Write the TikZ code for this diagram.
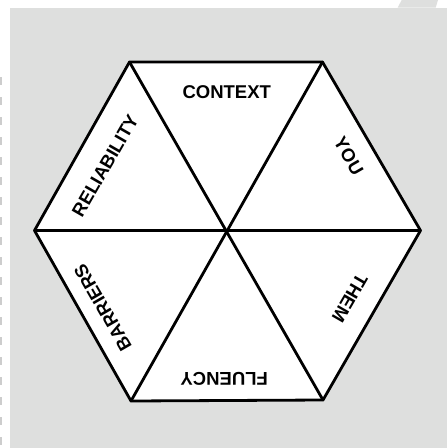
\documentclass[tikz,border=0pt]{standalone}
\usepackage{fontspec}
\setmainfont{Liberation Sans}
\definecolor{bggray}{HTML}{DEDFDE}
\definecolor{dashgray}{HTML}{CDCDCD}
\begin{document}
\begin{tikzpicture}[x=1pt,y=-1pt,
  edge/.style={line width=2.8pt, line join=round, line cap=round},
  lbl/.style={font=\bfseries\fontsize{18.5}{20}\selectfont, inner sep=0pt, text height=13.3pt, text depth=0pt}]
\useasboundingbox (0,0) rectangle (447,448);
\fill[white] (0,0) rectangle (447,448);
\fill[bggray] (10,7.5) rectangle (447,448);
\fill[bggray] (397.7,7.6) -- (401.7,0) -- (438,0) -- (435.7,7.6) -- cycle;
\draw[dashgray, line width=2pt, dash pattern=on 8pt off 12pt] (1,77) -- (1,448);
% hexagon
\coordinate (c) at (227.5,230.5);
\coordinate (v1) at (129.5,62);
\coordinate (v2) at (322.5,62);
\coordinate (v3) at (420.5,230.5);
\coordinate (v4) at (323,400);
\coordinate (v5) at (131,401);
\coordinate (v6) at (34.5,230.5);
\filldraw[fill=white, draw=black, edge] (v1) -- (v2) -- (v3) -- (v4) -- (v5) -- (v6) -- cycle;
\draw[edge] (v1) -- (v4);
\draw[edge] (v2) -- (v5);
\draw[edge] (v3) -- (v6);
% labels
\node[lbl] (context) at (226.7,91.7) {CONTEXT};
\node[lbl, rotate=-60] (you) at (349,156) {YOU};
\node[lbl, rotate=-120] (them) at (350,298.5) {THEM};
\node[lbl, rotate=180] (fluency) at (224.2,378.7) {FLUENCY};
\node[lbl, rotate=120] (barriers) at (102.5,307.5) {BARRIERS};
\node[lbl, rotate=60] (reliability) at (105,165.5) {RELIABILITY};
\end{tikzpicture}
\end{document}
